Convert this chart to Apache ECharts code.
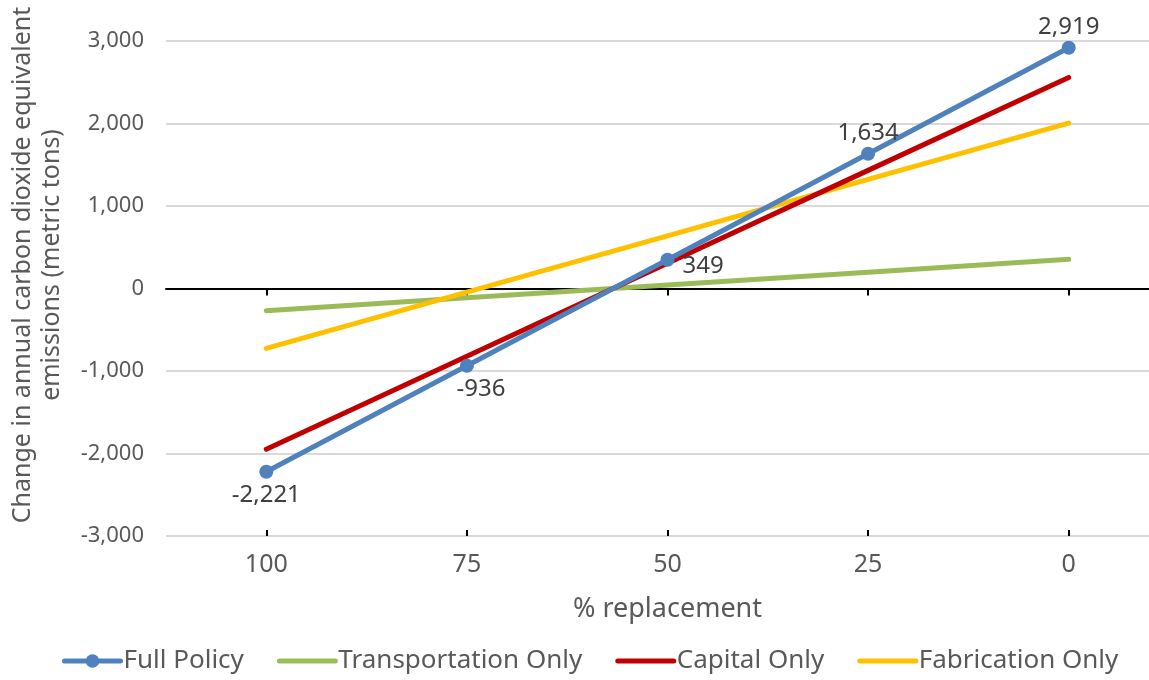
<!DOCTYPE html>
<html>
<head>
<meta charset="utf-8">
<script src="https://cdn.jsdelivr.net/npm/echarts@6/dist/echarts.min.js"></script>
<style>
html,body{margin:0;padding:0;background:#fff;}
#chart{width:1149px;height:680px;}
</style>
</head>
<body>
<div id="chart"></div>
<script>
const categories = ['100', '75', '50', '25', '0'];
const fullPolicy = [-2221, -936, 349, 1634, 2919];
const transportationOnly = [-269, -113, 42, 198, 354];
const capitalOnly = [-1948, -821, 305, 1432, 2558];
const fabricationOnly = [-726, -43, 639, 1322, 2005];
const yTicks = { min: -3000, max: 3000, interval: 1000 };
const yTitleLines = ['Change in annual carbon dioxide equivalent', 'emissions (metric tons)'];
const xTitle = '% replacement';

const FONT = '"Noto Sans", "Open Sans", sans-serif';
const chart = echarts.init(document.getElementById('chart'));

function lineSeries(name, data, color, withSymbol) {
  return {
    name: name,
    type: 'line',
    data: data,
    xAxisIndex: 0,
    symbol: withSymbol ? 'circle' : 'none',
    symbolSize: 14,
    showSymbol: withSymbol,
    lineStyle: { color: color, width: 5, cap: 'round' },
    itemStyle: { color: color },
    z: withSymbol ? 10 : 5,
    animation: false
  };
}

const labelCfg = [
  { position: 'bottom', distance: 4 },
  { position: 'bottom', distance: 4, offset: [14, 0] },
  { position: 'right', distance: 8, offset: [0, 6] },
  { position: 'top', distance: 3, offset: [0, 1] },
  { position: 'top', distance: 3, offset: [0, 1] }
];
const fp = lineSeries('Full Policy', fullPolicy.map((v, i) => ({
  value: v,
  label: Object.assign({ show: true }, labelCfg[i])
})), '#4F81BD', true);
fp.label = {
  show: true,
  color: '#404040',
  fontFamily: FONT,
  fontSize: 24,
  formatter: p => p.value.toLocaleString('en-US')
};

const titleStyle = { fill: '#595959', fontFamily: FONT, fontSize: 25, align: 'center', verticalAlign: 'middle' };

const option = {
  backgroundColor: '#ffffff',
  animation: false,
  grid: { left: 166, right: -20, top: 41, bottom: 144, containLabel: false, outerBoundsMode: 'none' },
  legend: {
    bottom: 1,
    left: 57,
    itemWidth: 56,
    itemHeight: 17,
    itemGap: 33,
    lineStyle: { width: 5, cap: 'round' },
    textStyle: { color: '#595959', fontFamily: FONT, fontSize: 26, padding: [0, 0, 0, -2] },
    data: [
      { name: 'Full Policy' },
      { name: 'Transportation Only', itemStyle: { opacity: 0 } },
      { name: 'Capital Only', itemStyle: { opacity: 0 } },
      { name: 'Fabrication Only', itemStyle: { opacity: 0 } }
    ]
  },
  graphic: [
    { type: 'text', x: 23, y: 265, rotation: Math.PI / 2, silent: true,
      style: Object.assign({ text: yTitleLines[0] }, titleStyle) },
    { type: 'text', x: 52, y: 265, rotation: Math.PI / 2, silent: true,
      style: Object.assign({ text: yTitleLines[1] }, titleStyle) }
  ],
  xAxis: [
    {
      type: 'category',
      data: categories,
      boundaryGap: true,
      axisLine: { show: false, onZero: false },
      axisTick: { show: false },
      axisLabel: { color: '#595959', fontFamily: FONT, fontSize: 25, margin: 16 },
      name: xTitle,
      nameLocation: 'middle',
      nameGap: 60,
      nameTextStyle: { color: '#595959', fontFamily: FONT, fontSize: 27 },
      splitLine: { show: false }
    },
    {
      type: 'category',
      data: categories,
      boundaryGap: true,
      position: 'bottom',
      axisLine: { show: true, onZero: true, lineStyle: { color: '#000000', width: 2 } },
      axisTick: { show: true, alignWithLabel: true, length: 7, inside: false, lineStyle: { color: '#000000', width: 2 } },
      axisLabel: { show: false },
      splitLine: { show: false }
    },
    {
      type: 'category',
      data: categories,
      boundaryGap: true,
      position: 'bottom',
      axisLine: { show: false, onZero: true },
      axisTick: { show: true, alignWithLabel: true, length: 6, inside: true, lineStyle: { color: '#000000', width: 2 } },
      axisLabel: { show: false },
      splitLine: { show: false }
    }
  ],
  yAxis: {
    type: 'value',
    min: yTicks.min,
    max: yTicks.max,
    interval: yTicks.interval,
    axisLine: { show: false },
    axisTick: { show: false },
    axisLabel: {
      color: '#595959', fontFamily: FONT, fontSize: 22, margin: 22,
      formatter: v => v.toLocaleString('en-US')
    },
    splitLine: { show: true, lineStyle: { color: '#D9D9D9', width: 2 } }
  },
  series: [
    lineSeries('Transportation Only', transportationOnly, '#9BBB59', false),
    lineSeries('Fabrication Only', fabricationOnly, '#FFC000', false),
    lineSeries('Capital Only', capitalOnly, '#C00000', false),
    fp
  ]
};
chart.setOption(option);
</script>
</body>
</html>
